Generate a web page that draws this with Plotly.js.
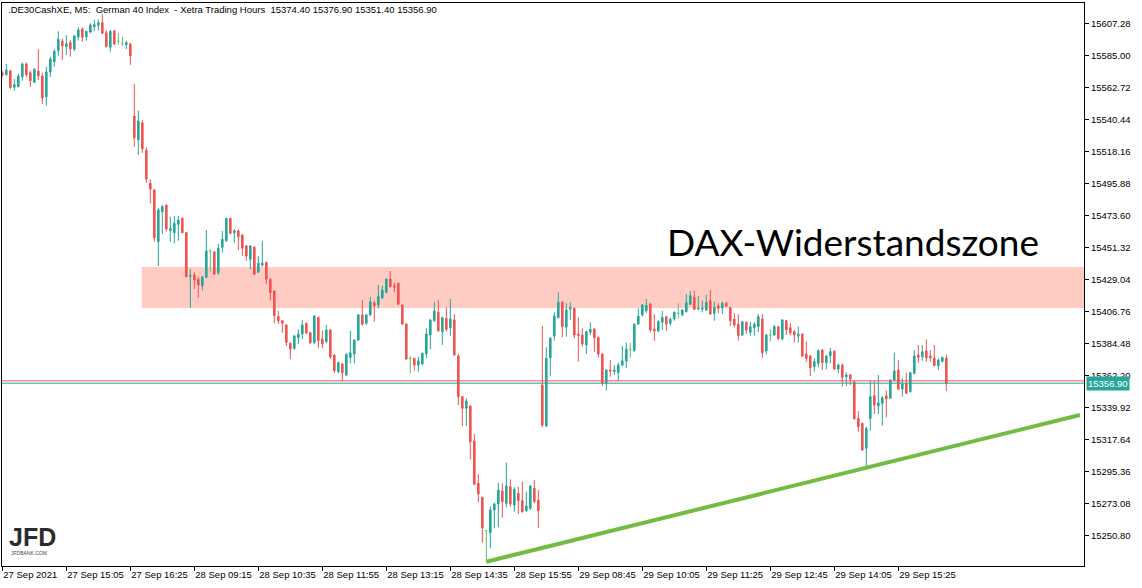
<!DOCTYPE html>
<html>
<head>
<meta charset="utf-8">
<script src="https://cdn.plot.ly/plotly-3.0.1.min.js"></script>
<style>
html,body{margin:0;padding:0;background:#fff;}
#chart{width:1142px;height:588px;}
</style>
</head>
<body>
<div id="chart"></div>
<script>
// ---- Data (DE30, M5) ----
const openP = [15572.9,15571.5,15574.1,15562.8,15563.2,15570.1,15579.0,15572.9,15566.2,15574.1,
15570.6,15556.2,15573.4,15580.6,15588.2,15594.9,15591.0,15593.8,15589.4,15597.9,
15603.3,15597.9,15601.2,15604.9,15605.9,15607.7,15600.7,15590.6,15601.9,15594.7,
15593.4,15592.4,15592.9,15542.8,15526.1,15538.0,15519.0,15496.0,15491.3,15455.3,
15476.2,15480.9,15463.0,15461.6,15467.4,15471.6,15461.6,15431.3,15432.2,15429.2,
15424.5,15430.6,15448.9,15448.2,15433.8,15451.4,15456.0,15471.6,15461.6,15462.8,
15460.0,15452.4,15443.1,15451.4,15434.1,15439.1,15441.0,15429.2,15421.0,15403.2,
15400.4,15397.4,15384.7,15381.2,15388.6,15391.1,15398.6,15392.0,15385.1,15402.7,
15387.6,15385.8,15393.9,15376.5,15364.9,15370.3,15362.6,15374.9,15377.2,15386.9,
15404.4,15398.6,15404.4,15412.9,15411.3,15416.2,15420.1,15429.4,15424.7,15426.4,
15411.3,15398.1,15374.2,15374.2,15369.5,15370.3,15377.2,15390.4,15400.4,15406.2,
15392.7,15402.0,15395.5,15400.9,15375.8,15347.5,15339.4,15341.0,15316.7,15287.3,
15277.5,15254.3,15252.9,15268.7,15272.9,15281.9,15273.3,15284.9,15272.2,15280.3,
15275.2,15268.2,15269.9,15283.8,15275.6,15355.7,15327.1,15374.6,15389.7,15402.5,
15413.2,15395.8,15408.5,15409.0,15391.1,15390.4,15383.5,15392.3,15394.6,15388.8,
15377.2,15356.8,15366.1,15365.1,15364.2,15369.5,15372.3,15380.5,15379.5,15398.1,
15404.4,15407.3,15412.0,15394.6,15393.2,15399.3,15403.2,15398.6,15401.8,15405.5,
15404.5,15406.6,15411.8,15416.7,15408.5,15408.4,15407.8,15414.3,15405.5,15410.6,
15409.4,15412.5,15409.4,15401.4,15397.9,15390.4,15399.3,15392.3,15395.5,15396.2,
15401.6,15379.3,15390.4,15390.4,15396.2,15387.6,15400.4,15395.5,15392.7,15389.7,
15391.1,15377.2,15375.8,15368.4,15370.7,15380.0,15371.2,15376.0,15379.3,15366.8,
15369.5,15361.4,15362.6,15357.9,15332.5,15329.0,15311.6,15332.5,15348.2,15341.0,
15342.9,15348.2,15346.4,15359.1,15366.1,15352.9,15356.8,15351.0,15363.8,15376.5,
15375.3,15379.3,15375.8,15374.2,15369.1,15371.9,15374.4];
const highP = [15574.0,15579.0,15575.0,15568.5,15572.0,15579.9,15580.1,15574.1,15576.0,15589.2,
15572.9,15577.1,15584.0,15589.2,15601.7,15596.6,15599.1,15595.7,15599.0,15604.5,
15604.5,15602.1,15607.3,15609.6,15610.1,15613.7,15602.6,15602.6,15602.6,15600.7,
15597.9,15595.2,15593.8,15565.1,15546.5,15540.0,15521.0,15498.7,15492.0,15479.0,
15480.9,15480.9,15472.7,15473.2,15473.2,15472.3,15462.3,15436.3,15434.1,15431.0,
15431.5,15463.5,15450.1,15448.9,15453.7,15462.8,15472.0,15472.0,15464.0,15464.0,
15460.5,15453.0,15453.0,15452.4,15445.4,15455.8,15441.4,15429.9,15421.6,15407.1,
15400.9,15397.9,15385.1,15390.4,15394.4,15400.9,15399.0,15392.7,15404.3,15403.2,
15393.4,15397.4,15394.4,15377.0,15371.9,15371.2,15377.7,15393.4,15387.4,15405.0,
15414.8,15405.0,15417.1,15414.3,15425.2,15424.5,15429.9,15434.9,15426.8,15426.8,
15411.8,15398.6,15375.8,15374.6,15375.3,15378.1,15395.1,15401.3,15413.2,15414.8,
15403.2,15409.7,15415.5,15405.0,15377.2,15348.0,15346.4,15341.7,15321.6,15293.7,
15278.0,15254.8,15271.0,15273.8,15287.7,15287.3,15301.6,15290.1,15284.5,15284.9,
15288.4,15281.4,15286.1,15289.6,15282.6,15396.7,15381.9,15388.8,15406.2,15420.1,
15414.1,15412.5,15413.2,15409.4,15402.7,15395.1,15393.4,15399.3,15395.1,15389.3,
15377.7,15366.5,15373.0,15369.5,15371.2,15382.8,15385.1,15385.1,15398.6,15409.0,
15412.0,15415.5,15412.9,15404.9,15400.9,15407.1,15403.6,15402.7,15406.9,15412.5,
15408.3,15419.0,15421.0,15421.3,15417.6,15414.3,15418.3,15421.7,15413.6,15412.5,
15413.6,15413.6,15410.1,15405.5,15404.9,15400.4,15399.7,15399.7,15399.3,15405.0,
15405.0,15390.9,15394.4,15397.4,15396.7,15401.4,15400.9,15399.0,15393.9,15396.2,
15391.6,15385.8,15376.5,15374.2,15380.5,15380.5,15376.5,15381.6,15379.5,15370.7,
15370.7,15364.5,15363.3,15358.6,15337.5,15329.4,15326.6,15358.4,15358.4,15362.6,
15348.0,15351.7,15359.6,15378.1,15373.0,15360.3,15364.2,15364.9,15380.0,15383.5,
15383.5,15387.4,15380.0,15383.5,15374.2,15375.3,15376.9];
const lowP = [15570.0,15571.0,15561.6,15560.4,15562.8,15567.3,15570.1,15563.2,15565.7,15567.8,
15551.1,15549.9,15570.1,15577.1,15584.7,15581.7,15585.2,15584.0,15587.8,15595.2,
15594.5,15595.2,15600.3,15601.9,15602.1,15599.8,15590.6,15587.5,15592.0,15592.4,
15591.5,15589.4,15578.3,15521.4,15515.7,15517.0,15496.4,15482.1,15455.3,15438.4,
15460.7,15462.3,15455.3,15454.2,15456.0,15461.2,15430.6,15409.4,15422.4,15416.4,
15421.3,15429.9,15434.5,15432.2,15432.2,15447.7,15455.3,15460.5,15454.6,15449.6,
15445.4,15442.1,15436.1,15432.2,15434.1,15437.9,15425.7,15414.3,15398.6,15398.1,
15392.0,15382.8,15373.7,15380.0,15384.2,15387.4,15391.1,15384.2,15384.2,15381.2,
15381.2,15384.7,15373.7,15363.8,15363.8,15358.6,15361.9,15370.7,15370.7,15386.4,
15396.9,15397.4,15403.6,15399.7,15409.0,15415.5,15419.4,15423.6,15420.1,15411.3,
15397.2,15373.0,15363.8,15365.6,15364.9,15369.5,15374.2,15380.5,15399.7,15392.7,
15383.5,15392.7,15389.9,15376.0,15341.7,15327.1,15327.1,15303.9,15286.1,15274.0,
15245.9,15232.7,15242.0,15256.0,15256.7,15263.3,15270.6,15271.0,15267.5,15265.9,
15266.8,15267.5,15268.7,15273.3,15256.0,15326.2,15326.6,15361.9,15386.5,15402.0,
15388.8,15389.3,15400.9,15388.1,15371.9,15382.3,15377.2,15390.4,15378.8,15374.9,
15354.9,15351.7,15361.4,15362.6,15358.4,15368.8,15367.3,15374.6,15378.8,15397.4,
15403.2,15405.5,15392.3,15386.3,15392.7,15393.9,15393.4,15397.0,15400.4,15401.8,
15403.6,15406.2,15411.3,15407.8,15407.8,15406.2,15407.3,15404.4,15400.4,15405.5,
15405.0,15410.1,15396.9,15395.8,15386.5,15389.7,15391.1,15389.9,15389.9,15392.3,
15374.6,15377.0,15385.8,15389.9,15386.9,15386.9,15390.4,15390.4,15385.1,15385.3,
15375.3,15371.9,15361.9,15364.9,15368.0,15366.1,15366.6,15370.7,15366.1,15363.8,
15354.5,15354.9,15355.6,15331.8,15323.2,15309.9,15298.8,15323.9,15335.5,15335.3,
15327.3,15333.2,15345.9,15358.4,15352.2,15347.5,15349.4,15350.3,15363.1,15371.2,
15372.5,15371.9,15371.9,15368.9,15366.1,15371.6,15351.4];
const closeP = [15571.1,15574.8,15562.5,15564.6,15570.6,15579.0,15571.3,15567.3,15575.3,15570.8,
15555.3,15573.4,15582.4,15587.8,15596.1,15591.7,15593.1,15589.4,15598.5,15602.6,
15597.5,15601.7,15606.1,15606.3,15607.7,15600.3,15591.0,15601.7,15592.9,15594.7,
15593.4,15593.8,15584.7,15527.7,15539.3,15520.0,15499.0,15492.0,15458.1,15477.4,
15479.7,15464.2,15464.7,15468.1,15470.4,15461.6,15431.0,15431.8,15428.7,15425.2,
15430.6,15448.9,15448.9,15432.9,15450.8,15457.0,15471.6,15461.2,15463.0,15458.8,
15450.8,15445.4,15452.4,15432.7,15440.3,15440.3,15429.2,15419.9,15403.9,15400.4,
15398.6,15385.3,15380.7,15389.7,15391.1,15397.4,15392.0,15385.1,15403.6,15386.5,
15384.2,15393.9,15375.3,15365.6,15371.2,15364.2,15377.0,15378.1,15386.9,15404.4,
15397.9,15404.4,15413.6,15410.8,15417.1,15421.7,15429.4,15424.0,15423.6,15411.8,
15398.1,15373.7,15374.2,15369.5,15372.5,15377.7,15391.1,15400.9,15407.1,15393.4,
15402.5,15394.4,15401.6,15376.5,15347.5,15339.4,15344.5,15316.2,15286.6,15279.8,
15256.4,15254.3,15268.7,15272.9,15282.6,15274.5,15285.4,15272.9,15283.1,15275.2,
15267.5,15271.5,15285.4,15274.5,15268.2,15327.8,15374.2,15388.2,15403.6,15413.2,
15396.2,15407.8,15409.7,15390.4,15390.0,15384.2,15392.7,15394.4,15388.6,15377.2,
15356.8,15366.1,15365.4,15366.1,15369.5,15372.5,15380.5,15380.5,15397.9,15403.6,
15411.3,15411.1,15393.9,15393.2,15399.7,15402.5,15398.1,15401.4,15406.2,15405.5,
15407.8,15412.9,15417.8,15408.3,15409.0,15409.2,15413.2,15405.0,15409.7,15409.0,
15412.5,15410.6,15400.4,15397.4,15389.9,15399.7,15393.9,15396.2,15397.9,15403.2,
15378.1,15390.4,15390.4,15396.2,15388.1,15400.9,15393.9,15392.0,15390.4,15391.1,
15375.8,15374.2,15367.7,15371.9,15379.5,15371.2,15375.8,15378.8,15366.8,15369.5,
15361.0,15362.6,15359.8,15332.0,15326.6,15310.4,15325.5,15347.5,15341.7,15343.3,
15346.8,15345.9,15359.1,15365.4,15352.7,15356.3,15349.9,15364.2,15375.8,15374.9,
15378.8,15374.6,15374.6,15369.1,15373.0,15374.9,15356.9];

const timeLabels = ["27 Sep 2021","27 Sep 15:05","27 Sep 16:25","28 Sep 09:15","28 Sep 10:35",
  "28 Sep 11:55","28 Sep 13:15","28 Sep 14:35","28 Sep 15:55","29 Sep 08:45",
  "29 Sep 10:05","29 Sep 11:25","29 Sep 12:45","29 Sep 14:05","29 Sep 15:25"];
const priceTicks = [15250.80,15273.08,15295.36,15317.64,15339.92,15362.20,15384.48,15406.76,
  15429.04,15451.32,15473.60,15495.88,15518.16,15540.44,15562.72,15585.00,15607.28];

const bid = 15356.90, ask = 15358.50;
const zoneLow = 15409.2, zoneHigh = 15437.8;
const trendStart = {bar:121, price:15232.7}, trendEnd = {bar:269.4, price:15334.8};
const headerText = ".DE30CashXE, M5:  German 40 Index  - Xetra Trading Hours  15374.40 15376.90 15351.40 15356.90";

// ---- Build traces ----
const UP = '#26A69A', DOWN = '#EF5350', DOJI = '#5CC06C';
function group(cond){
  const g = {x:[],open:[],high:[],low:[],close:[]};
  for (let i=0;i<openP.length;i++){
    if (cond(openP[i], closeP[i])){
      g.x.push(i); g.open.push(openP[i]); g.high.push(highP[i]); g.low.push(lowP[i]); g.close.push(closeP[i]);
    }
  }
  return g;
}
function candle(g, col){
  return Object.assign({type:'candlestick', whiskerwidth:0, hoverinfo:'skip', showlegend:false,
    increasing:{line:{color:col,width:1},fillcolor:col},
    decreasing:{line:{color:col,width:1},fillcolor:col}}, g);
}
const traces = [
  candle(group((o,c)=>c>o), UP),
  candle(group((o,c)=>c<o), DOWN),
  candle(group((o,c)=>c===o), DOJI)
];

const FONT = 'Liberation Sans, Arial, sans-serif';
const L=2, R=58, T=3, B=22, W=1142, H=588;
const pw = W-L-R, ph = H-T-B;
function px2paperX(px){ return (px-L)/pw; }
function px2paperY(py){ return 1-(py-T)/ph; }

const layout = {
  width:W, height:H,
  margin:{l:L,r:R,t:T,b:B,pad:0},
  paper_bgcolor:'#ffffff', plot_bgcolor:'#ffffff',
  showlegend:false,
  boxgap:0.45,
  xaxis:{
    type:'linear', range:[-0.0825, 270.42],
    rangeslider:{visible:false},
    showgrid:false, zeroline:false,
    showline:true, linecolor:'#000', linewidth:1, mirror:true,
    ticks:'outside', ticklen:4, tickcolor:'#000', tickwidth:1,
    tickvals: timeLabels.map((_,k)=>k*16),
    ticktext: timeLabels,
    tickangle:0,
    ticklabelposition:'outside right',
    ticklabeloverflow:'allow',
    tickfont:{family:FONT,size:9.5,color:'#000'},
    fixedrange:true
  },
  yaxis:{
    side:'right', range:[15229.72, 15621.40],
    showgrid:false, zeroline:false,
    showline:true, linecolor:'#000', linewidth:1, mirror:true,
    ticks:'outside', ticklen:4, tickcolor:'#000', tickwidth:1,
    tickvals: priceTicks,
    ticktext: priceTicks.map(v=>v.toFixed(2)),
    tickfont:{family:FONT,size:9.5,color:'#000'},
    fixedrange:true
  },
  shapes:[
    {type:'rect', xref:'x', yref:'y', x0:34.84, x1:270.42, y0:zoneLow, y1:zoneHigh,
     fillcolor:'#FFCCC4', line:{width:0}, layer:'below'},
    {type:'line', xref:'paper', yref:'y', x0:0, x1:1, y0:ask, y1:ask, line:{color:DOWN,width:1}},
    {type:'line', xref:'paper', yref:'y', x0:0, x1:1, y0:bid, y1:bid, line:{color:UP,width:1}},
    {type:'line', xref:'x', yref:'y', x0:trendStart.bar, y0:trendStart.price, x1:trendEnd.bar, y1:trendEnd.price,
     line:{color:'#72BC44',width:4}}
  ],
  annotations:[
    {xref:'paper', yref:'paper', x:px2paperX(6), y:px2paperY(10), xanchor:'left', yanchor:'middle',
     text:headerText, showarrow:false, font:{family:FONT,size:9.5,color:'#000'}},
    {xref:'paper', yref:'paper', x:px2paperX(853), y:px2paperY(242), xanchor:'center', yanchor:'middle',
     text:'DAX-Widerstandszone', showarrow:false, font:{family:'Lato, sans-serif',size:37,color:'#000'}},
    {xref:'paper', yref:'y', x:px2paperX(1086), y:bid, xanchor:'left', yanchor:'middle',
     text:bid.toFixed(2), showarrow:false, bgcolor:UP, borderpad:1,
     font:{family:FONT,size:9.5,color:'#ffffff'}},
    {xref:'paper', yref:'paper', x:px2paperX(7), y:px2paperY(537), xanchor:'left', yanchor:'middle',
     text:'<b>JFD</b>', showarrow:false, font:{family:FONT,size:25,color:'#2b2b2b'}},
    {xref:'paper', yref:'paper', x:px2paperX(9), y:px2paperY(553), xanchor:'left', yanchor:'middle',
     text:'JFDBANK.COM', showarrow:false, font:{family:FONT,size:5,color:'#444'}}
  ]
};

Plotly.newPlot('chart', traces, layout, {staticPlot:true, displayModeBar:false});
</script>
</body>
</html>
